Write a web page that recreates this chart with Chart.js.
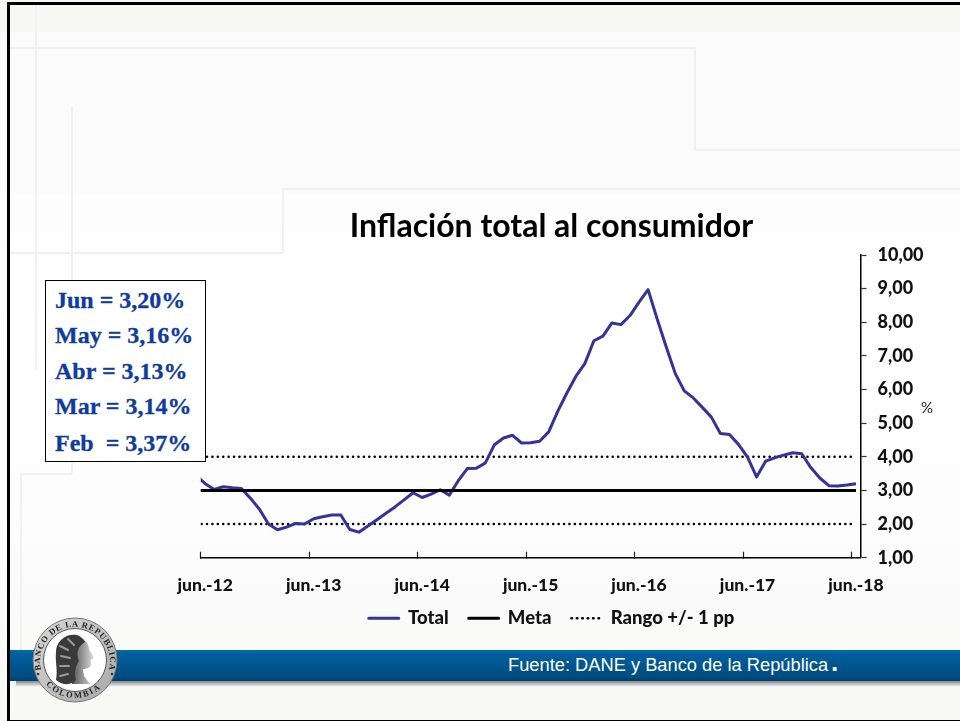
<!DOCTYPE html>
<html>
<head>
<meta charset="utf-8">
<title>Inflación total al consumidor</title>
<script src="https://cdn.jsdelivr.net/npm/chart.js@4/dist/chart.umd.min.js"></script>
<style>
html, body { margin: 0; padding: 0; }
#slide { position: relative; width: 960px; height: 721px; overflow: hidden;
  background: linear-gradient(#f7f7f3 0, #f7f7f3 32px, #fbfbfb 32px, #fbfbfb 195px, #fdfdfd 195px, #ffffff 330px, #fdfdfd 520px, #fafafa 600px, #f8f8f5 721px); }
#frame { position: absolute; left: 7px; top: 2px; width: 960px; height: 715px; border: 3px solid #000; box-sizing: content-box; }
.deco { position: absolute; background: #f1f1f1; }
#band { position: absolute; left: 10px; right: 0; top: 650px; height: 31px;
  background: linear-gradient(#0a6ba6 0, #00619f 3px, #004a7e 28px, #003f6c 31px); }
#bandShadow { position: absolute; left: 16px; right: 0; top: 681px; height: 6px;
  background: linear-gradient(#8a8a8a, #f8f8f5); }
#fuente { position: absolute; left: 508px; top: 654px; color: #fff; font: 18.3px "Liberation Sans", sans-serif; white-space: nowrap; }
#fuente b { font-size: 26px; line-height: 16px; margin-left: 3px; }
#chart { position: absolute; left: 0; top: 0; }
#info { position: absolute; left: 45px; top: 280px; width: 159px; height: 179.5px; background: #fff; border: 1.5px solid #000; }
#info div { position: absolute; left: 9px; color: #0f3c9c; font: bold 24px "Liberation Serif", serif; white-space: pre; line-height: 36px; -webkit-text-stroke: 0.3px #0f3c9c; }
#pct { position: absolute; left: 921px; top: 398px; font: 15px "Lato", sans-serif; color: #222; }
#seal { position: absolute; left: 30px; top: 614px; }
</style>
</head>
<body>
<div id="slide">
  <div class="deco" style="left:35px;top:4px;width:2px;height:366px"></div>
  <div class="deco" style="left:10px;top:47px;width:684px;height:2px"></div>
  <div class="deco" style="left:694px;top:47px;width:2px;height:103px"></div>
  <div class="deco" style="left:694px;top:149px;width:266px;height:2px"></div>
  <div class="deco" style="left:71px;top:106px;width:2px;height:367px"></div>
  <div class="deco" style="left:283px;top:188px;width:677px;height:2px"></div>
  <div class="deco" style="left:282px;top:188px;width:2px;height:65px"></div>
  <div class="deco" style="left:10px;top:252px;width:273px;height:2px"></div>
  <div class="deco" style="left:20px;top:473px;width:52px;height:2px"></div>
  <div class="deco" style="left:20px;top:473px;width:2px;height:177px"></div>
  <div id="frame"></div>
  <div id="bandShadow"></div>
  <div id="band"></div>
  <div id="fuente">Fuente: DANE y Banco de la República<b>.</b></div>
  <canvas id="chart" width="960" height="721"></canvas>
  <div id="info">
    <div style="top:1px">Jun = 3,20%</div>
    <div style="top:36px">May = 3,16%</div>
    <div style="top:72px">Abr = 3,13%</div>
    <div style="top:107px">Mar = 3,14%</div>
    <div style="top:144px">Feb  = 3,37%</div>
  </div>
  <div id="pct">%</div>
  <svg id="seal" width="90" height="92" viewBox="0 0 90 92">
    <defs>
      <linearGradient id="ring" x1="0" y1="0" x2="1" y2="1">
        <stop offset="0" stop-color="#d8d8d8"/><stop offset="1" stop-color="#a8a8a8"/>
      </linearGradient>
      <linearGradient id="face" x1="0" y1="0" x2="1" y2="0">
        <stop offset="0" stop-color="#555"/><stop offset="1" stop-color="#ddd"/>
      </linearGradient>
      <path id="arcTop" d="M 11 56 A 35 35 0 1 1 79 56"/>
      <path id="arcBot" d="M 14 68 A 38 38 0 0 0 76 68"/>
    </defs>
    <circle cx="45" cy="46" r="42" fill="url(#ring)" stroke="#777" stroke-width="1"/>
    <circle cx="45" cy="46" r="31.5" fill="#fff" stroke="#555" stroke-width="1"/>
    <text font-family="Liberation Serif" font-weight="bold" font-size="8.5" fill="#222"><textPath href="#arcTop" textLength="126" lengthAdjust="spacing">BANCO DE LA REPUBLICA</textPath></text>
    <text font-family="Liberation Serif" font-weight="bold" font-size="8.5" fill="#222" letter-spacing="1.8"><textPath href="#arcBot" startOffset="3">COLOMBIA</textPath></text>
    <circle cx="8" cy="60" r="1.3" fill="#333"/><circle cx="82" cy="60" r="1.3" fill="#333"/>
    <path d="M 50 24 C 56 26 59 31 59 35 L 64 44 L 60.5 46 L 61 51 C 60 54 56 55 53 55 L 54 62 L 60 70 L 42 70 L 42 30 Z" fill="url(#face)"/>
    <path d="M 47 21 C 36 19 26 27 26 38 C 25 48 28 56 26 66 C 33 72 42 71 46 66 C 44 60 45 52 49 47 C 46 40 47 33 55 28 C 53 24 50 22 47 21 Z" fill="#3a3a3a"/>
    <path d="M 30 32 L 38 36 M 31 42 L 40 44 M 30 52 L 39 52 M 30 62 L 38 60 M 38 25 L 44 31" stroke="#9a9a9a" stroke-width="2" stroke-linecap="round"/>
  </svg>
</div>
<script>
var meses = ["may.-12","jun.-12","jul.-12","ago.-12","sep.-12","oct.-12","nov.-12","dic.-12",
  "ene.-13","feb.-13","mar.-13","abr.-13","may.-13","jun.-13","jul.-13","ago.-13","sep.-13","oct.-13","nov.-13","dic.-13",
  "ene.-14","feb.-14","mar.-14","abr.-14","may.-14","jun.-14","jul.-14","ago.-14","sep.-14","oct.-14","nov.-14","dic.-14",
  "ene.-15","feb.-15","mar.-15","abr.-15","may.-15","jun.-15","jul.-15","ago.-15","sep.-15","oct.-15","nov.-15","dic.-15",
  "ene.-16","feb.-16","mar.-16","abr.-16","may.-16","jun.-16","jul.-16","ago.-16","sep.-16","oct.-16","nov.-16","dic.-16",
  "ene.-17","feb.-17","mar.-17","abr.-17","may.-17","jun.-17","jul.-17","ago.-17","sep.-17","oct.-17","nov.-17","dic.-17",
  "ene.-18","feb.-18","mar.-18","abr.-18","may.-18","jun.-18"];

var total = [3.44,3.20,3.03,3.11,3.08,3.06,2.77,2.44,
  2.00,1.83,1.91,2.02,2.00,2.16,2.22,2.27,2.27,1.84,1.76,1.94,
  2.13,2.32,2.51,2.72,2.93,2.79,2.89,3.02,2.86,3.29,3.65,3.66,
  3.82,4.36,4.56,4.64,4.41,4.42,4.46,4.74,5.35,5.89,6.39,6.77,
  7.45,7.59,7.98,7.93,8.20,8.60,8.97,8.10,7.27,6.48,5.96,5.75,
  5.47,5.18,4.69,4.66,4.37,3.99,3.40,3.87,3.97,4.05,4.12,4.09,
  3.68,3.37,3.14,3.13,3.16,3.20];

var meta = [3,3,3,3,3,3,3,3,3,3,3,3,3,3,3,3,3,3,3,3,3,3,3,3,3,3,3,3,3,3,3,3,3,3,3,3,3,
  3,3,3,3,3,3,3,3,3,3,3,3,3,3,3,3,3,3,3,3,3,3,3,3,3,3,3,3,3,3,3,3,3,3,3,3,3];
var rangoAlto = [4,4,4,4,4,4,4,4,4,4,4,4,4,4,4,4,4,4,4,4,4,4,4,4,4,4,4,4,4,4,4,4,4,4,4,4,4,
  4,4,4,4,4,4,4,4,4,4,4,4,4,4,4,4,4,4,4,4,4,4,4,4,4,4,4,4,4,4,4,4,4,4,4,4,4];
var rangoBajo = [2,2,2,2,2,2,2,2,2,2,2,2,2,2,2,2,2,2,2,2,2,2,2,2,2,2,2,2,2,2,2,2,2,2,2,2,2,
  2,2,2,2,2,2,2,2,2,2,2,2,2,2,2,2,2,2,2,2,2,2,2,2,2,2,2,2,2,2,2,2,2,2,2,2,2];

var fuenteEjes = "Lato";
var puntos = { borderDash: [0.01, 5.4], borderCapStyle: "round", borderWidth: 2.6, borderColor: "#000" };

// las etiquetas del eje x caen por debajo de su caja, se amplia el recorte
var etiquetasX = {
  id: "etiquetasX",
  afterLayout: function(chart) { chart.scales.x.bottom += 14; }
};

new Chart(document.getElementById("chart").getContext("2d"), {
  type: "line",
  plugins: [etiquetasX],
  data: {
    labels: meses,
    datasets: [
      { label: "Total", data: total, yAxisID: "y", borderColor: "#333399", backgroundColor: "#333399", borderWidth: 3, order: 2 },
      { label: "Meta", data: meta, yAxisID: "y", borderColor: "#000", backgroundColor: "#000", borderWidth: 3, order: 1 },
      Object.assign({ label: "Rango +/- 1 pp", data: rangoAlto, yAxisID: "y", backgroundColor: "#000", order: 3 }, puntos),
      Object.assign({ label: "Rango inferior", data: rangoBajo, yAxisID: "y", backgroundColor: "#000", order: 3 }, puntos)
    ]
  },
  options: {
    responsive: false,
    animation: false,
    elements: { point: { radius: 0 }, line: { tension: 0, borderJoinStyle: "round" } },
    layout: { autoPadding: false, padding: { left: 143, right: 0, top: 207, bottom: 83.5 } },
    scales: {
      x: {
        type: "category",
        min: "jun.-12",
        offset: true,
        border: { color: "#000", width: 1.5 },
        grid: {
          offset: true,
          drawOnChartArea: false,
          tickLength: -6,
          tickWidth: 1.2,
          tickColor: function(ctx) { return ctx.index % 12 === 0 ? "#222" : "rgba(0,0,0,0)"; }
        },
        ticks: {
          autoSkip: false,
          maxRotation: 0,
          padding: 23,
          color: "#111",
          font: { family: fuenteEjes, size: 17.5, weight: "900" },
          callback: function(value, index) { return index % 12 === 0 ? this.getLabelForValue(value) : ""; }
        },
        afterFit: function(scale) { scale.height = 31.3; }
      },
      // eje vacio a la izquierda, centra titulo y leyenda como en el original
      relleno: {
        type: "linear",
        position: "left",
        grid: { display: false },
        border: { display: false },
        ticks: { display: false },
        afterFit: function(scale) { scale.width = 57.7; }
      },
      y: {
        position: "right",
        min: 1,
        max: 10,
        border: { color: "#000", width: 1.5 },
        grid: { drawOnChartArea: false, tickLength: 6, tickColor: "#333", tickWidth: 1.2 },
        ticks: {
          stepSize: 1,
          padding: 11,
          color: "#111",
          font: { family: fuenteEjes, size: 18, weight: "900" },
          callback: function(value) { return value.toFixed(2).replace(".", ","); }
        },
        afterFit: function(scale) { scale.width = 99.5; }
      }
    },
    plugins: {
      tooltip: { enabled: false },
      title: {
        display: true,
        text: "Inflación total al consumidor",
        color: "#000",
        font: { family: fuenteEjes, size: 32, weight: "bold", lineHeight: 1.2 },
        padding: { top: 0, bottom: 9.6 }
      },
      legend: {
        position: "bottom",
        labels: {
          boxWidth: 30,
          boxHeight: 0,
          padding: 20,
          color: "#111",
          font: { family: fuenteEjes, size: 18.5, weight: "900" },
          filter: function(item) { return item.datasetIndex !== 3; },
          sort: function(a, b) { return a.datasetIndex - b.datasetIndex; }
        }
      }
    }
  }
});
</script>
</body>
</html>
